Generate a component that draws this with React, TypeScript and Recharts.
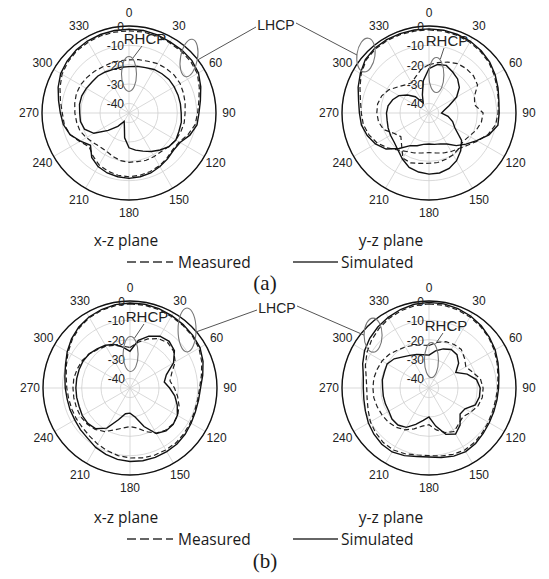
import React from 'react';
import { RadarChart, Radar, PolarGrid, PolarAngleAxis, PolarRadiusAxis } from 'recharts';

// sample angles (deg, clockwise from top) and axis labels
const ANGLES = [0, 10, 20, 30, 40, 50, 60, 70, 80, 90, 100, 110, 120, 130, 140, 150, 160, 170,
  180, 190, 200, 210, 220, 230, 240, 250, 260, 270, 280, 290, 300, 310, 320, 330, 340, 350];
const ANGLE_LABELS = [0, 30, 60, 90, 120, 150, 180, 210, 240, 270, 300, 330];
const RADIUS_TICKS = [-40, -30, -20, -10, 0];
const DB_MIN = -45;
const DB_MAX = 0;

// (a) x-z plane
const A_XZ_LHCP_SIM = [-1.7, -1.7, -2, -2.5, -2.5, -2.6, -3.5, -5.5, -7.5, -8.8, -9.3, -11.5, -14.5, -15, -14, -13, -12, -11.5,
  -11.2, -11.5, -12, -13, -15, -19, -16, -12.5, -10.5, -9.5, -8, -6, -4.2, -3.2, -2.5, -2, -1.8, -1.7];
const A_XZ_LHCP_MEAS = [-2.5, -2.5, -2.6, -3, -3.2, -3.4, -4.2, -6.3, -8.3, -9.5, -10.3, -12.5, -15, -15.5, -14.5, -13.5, -12.8, -12.3,
  -12, -12.3, -13, -14, -16, -18, -15.5, -12.5, -11, -10.5, -9, -7, -5, -3.8, -3, -2.7, -2.5, -2.5];
const A_XZ_RHCP_SIM = [-21, -20.5, -20, -19, -18.5, -18, -18, -18, -18, -18, -17.5, -17.5, -17, -18, -20, -22, -24, -25.5,
  -27, -32, -38, -40, -36, -31, -24, -20.5, -19.5, -19.5, -19, -19, -19.5, -20, -20, -20.5, -21, -21];
const A_XZ_RHCP_MEAS = [-17.5, -17, -16.5, -15.5, -15, -14.5, -14.5, -15, -15.5, -16, -16, -16.5, -17, -18, -19, -19, -19, -19.5,
  -19.5, -20, -21, -22, -22, -21, -19.5, -18, -17.5, -17, -16.5, -16, -16, -16.5, -17, -17.5, -17.5, -17.5];

// (a) y-z plane
const A_YZ_LHCP_SIM = [-1.5, -1.5, -1.8, -2.2, -3, -4, -5.5, -7, -8.3, -8.7, -8.8, -12, -16.5, -20, -23, -26.5, -28, -28.5,
  -29, -28.5, -27, -25.5, -21, -16, -13, -11, -9.5, -9, -8, -6, -4, -2, -1.3, -1.2, -1.3, -1.4];
const A_YZ_LHCP_MEAS = [-2, -2, -2.3, -2.8, -3.5, -4.5, -6, -7.5, -8.5, -9.3, -10, -12.5, -16, -19, -21, -22, -23, -24,
  -24.5, -24, -23, -22, -20, -17, -14, -12, -10.5, -10, -9, -7, -4.5, -2.5, -1.8, -1.7, -1.8, -2];
const A_YZ_RHCP_SIM = [-22, -19.5, -18.8, -20.5, -22, -24.5, -28.5, -34, -37, -38.5, -35, -32, -29.5, -23, -19.5, -16.5, -14.5, -13.5,
  -13.4, -14, -15, -17.5, -20, -21.5, -22, -22.5, -23, -23, -23.5, -25, -27, -30.5, -34, -39, -35, -28];
const A_YZ_RHCP_MEAS = [-20, -18.5, -17, -15.5, -15, -15, -16, -20, -21, -17, -17.5, -19, -21, -22, -21, -20, -19.5, -19,
  -19, -18.5, -17.5, -18, -23, -26, -24, -20, -18.5, -18, -18, -19, -21, -24, -26, -27, -25, -22];

// (b) x-z plane
const B_XZ_LHCP_SIM = [-1, -1, -1.3, -1.8, -2.2, -2.6, -3.2, -4.8, -6.8, -8.5, -9, -9, -8.5, -7.8, -7.2, -7, -6.8, -6.8,
  -7, -7.5, -8.5, -9.5, -11, -11.5, -12, -12, -12, -11.5, -10.8, -9.5, -7.5, -5.5, -3.8, -2.6, -1.8, -1.2];
const B_XZ_LHCP_MEAS = [-1.5, -1.5, -1.8, -2.3, -2.6, -3, -3.8, -5.5, -7.5, -9, -9.5, -9.5, -9, -8.5, -8, -8, -8, -8.3,
  -8.8, -9.5, -10.5, -11.5, -12.5, -13, -13, -13, -12.8, -12.3, -11.5, -10, -8, -6, -4.3, -3, -2.2, -1.7];
const B_XZ_RHCP_SIM = [-26, -20, -16.5, -14, -13.5, -15, -19, -25, -27, -24.5, -21.5, -19, -16.7, -15.8, -16, -17.8, -23.8, -29.8,
  -32, -31.5, -27.5, -21, -17.5, -16.5, -16.5, -17, -17, -17, -17, -17, -17, -17.5, -18.5, -19.5, -21, -23.5];
const B_XZ_RHCP_MEAS = [-24, -21, -18, -15.5, -14.5, -15.5, -18, -22, -24, -22, -20, -18, -16.5, -16, -16.5, -18, -21, -24,
  -25, -24, -22, -19, -17, -16, -15.5, -15.5, -15.5, -15.5, -15.5, -16, -16.5, -17.5, -19, -20, -21.5, -23];

// (b) y-z plane
const B_YZ_LHCP_SIM = [-0.7, -0.8, -1.3, -2, -3, -4.2, -5.5, -7, -8.3, -9, -9.3, -9.3, -9, -8.4, -7.5, -7, -7.5, -8.5,
  -9.3, -9, -7.8, -6.8, -7, -7.8, -8.8, -10, -10.8, -11, -10.5, -8.5, -6.5, -5, -3.8, -2.8, -1.8, -1];
const B_YZ_LHCP_MEAS = [-1.5, -1.5, -2, -2.6, -3.5, -4.6, -6, -7.5, -8.8, -9.5, -10, -10, -9.6, -9, -8.3, -8, -8.5, -9.3,
  -10, -9.8, -8.8, -8, -8.2, -9, -10, -11.5, -12.5, -12.8, -12, -10, -8, -6.3, -4.8, -3.5, -2.5, -1.8];
const B_YZ_RHCP_SIM = [-28, -25.5, -23.5, -22, -22.5, -25, -29, -24, -20, -18.5, -18.5, -19.5, -23.5, -24, -20, -17.5, -19.5, -25,
  -30, -28, -25, -21.5, -20, -20, -21, -21, -21, -21, -20.5, -20.5, -20, -21.5, -24, -25.5, -26.5, -27.5];
const B_YZ_RHCP_MEAS = [-23, -21, -19.5, -19, -19, -21, -23, -21, -18, -17, -17, -18, -20, -22, -21, -19, -20.5, -23,
  -26, -25, -22.5, -20, -18.5, -17.5, -17, -16.5, -16, -16, -16, -16.5, -17, -18, -19.5, -20.5, -21.5, -22.5];

const R = 87;
const SANS = '"Liberation Sans", Arial, sans-serif';
const BODY = '"Open Sans", "Noto Sans", sans-serif';
const INK = '#1a1a1a';

const panels = [
  {
    id: 'a-xz', left: 0, top: 0, width: 262, cx: 129, cy: 113,
    lhcpSim: A_XZ_LHCP_SIM, lhcpMeas: A_XZ_LHCP_MEAS, rhcpSim: A_XZ_RHCP_SIM, rhcpMeas: A_XZ_RHCP_MEAS,
    lhcpMark: { angle: 47.5, db: -2.9, rx: 8.5, ry: 19, rot: 10 },
    rhcpMark: { angle: 0, db: -24.8, rx: 7.5, ry: 17.5, rot: 0 },
    rhcpLabel: { dx: 16, dy: -75 },
  },
  {
    id: 'a-yz', left: 290, top: 0, width: 259, cx: 139, cy: 113,
    lhcpSim: A_YZ_LHCP_SIM, lhcpMeas: A_YZ_LHCP_MEAS, rhcpSim: A_YZ_RHCP_SIM, rhcpMeas: A_YZ_RHCP_MEAS,
    lhcpMark: { angle: 312.6, db: -0.7, rx: 9, ry: 17, rot: 8 },
    rhcpMark: { angle: 11, db: -25, rx: 7.5, ry: 17.5, rot: 0 },
    rhcpLabel: { dx: 18, dy: -73 },
  },
  {
    id: 'b-xz', left: 0, top: 275, width: 262, cx: 130, cy: 113,
    lhcpSim: B_XZ_LHCP_SIM, lhcpMeas: B_XZ_LHCP_MEAS, rhcpSim: B_XZ_RHCP_SIM, rhcpMeas: B_XZ_RHCP_MEAS,
    lhcpMark: { angle: 44.5, db: -2.9, rx: 9, ry: 22, rot: 0 },
    rhcpMark: { angle: 1, db: -27.4, rx: 7.5, ry: 17.5, rot: 0 },
    rhcpLabel: { dx: 17, dy: -72 },
  },
  {
    id: 'b-yz', left: 290, top: 275, width: 259, cx: 139, cy: 113,
    lhcpSim: B_YZ_LHCP_SIM, lhcpMeas: B_YZ_LHCP_MEAS, rhcpSim: B_YZ_RHCP_SIM, rhcpMeas: B_YZ_RHCP_MEAS,
    lhcpMark: { angle: 313.4, db: -5.2, rx: 9, ry: 17, rot: 0 },
    rhcpMark: { angle: 5, db: -30.5, rx: 7, ry: 17.5, rot: 0 },
    rhcpLabel: { dx: 17, dy: -63 },
  },
];

const dbToR = (db: number) => ((db - DB_MIN) / (DB_MAX - DB_MIN)) * R;

function polarPoint(cx: number, cy: number, angle: number, db: number) {
  const r = dbToR(db);
  const a = (angle * Math.PI) / 180;
  return { x: cx + r * Math.sin(a), y: cy - r * Math.cos(a) };
}

function PolarPanel({ p }: { p: any }) {
  const data = ANGLES.map((a, i) => ({
    angle: String(a),
    lhcpMeas: p.lhcpMeas[i],
    lhcpSim: p.lhcpSim[i],
    rhcpMeas: p.rhcpMeas[i],
    rhcpSim: p.rhcpSim[i],
  }));
  const rings = RADIUS_TICKS.map(dbToR);

  const angleTick = (props: any) => {
    const v = Number(props.payload.value);
    if (v % 30 !== 0) return <g />;
    const rad = (-props.payload.coordinate * Math.PI) / 180;
    const x = p.cx + (R + 13) * Math.cos(rad);
    const y = p.cy + (R + 13) * Math.sin(rad);
    return (
      <text x={x} y={y} textAnchor="middle" dominantBaseline="central" fontSize={12} fontFamily={SANS} fill="#222">
        {v}
      </text>
    );
  };

  const radiusTick = (props: any) => {
    const v = Number(props.payload.value);
    if (!RADIUS_TICKS.includes(v)) return <g />;
    return (
      <text x={props.x - 5} y={props.y + 1} textAnchor="end" dominantBaseline="central" fontSize={12} fontFamily={SANS} fill="#222">
        {v}
      </text>
    );
  };

  return (
    <div style={{ position: 'absolute', left: p.left, top: p.top }}>
      <RadarChart
        width={p.width}
        height={226}
        data={data}
        cx={p.cx}
        cy={p.cy}
        outerRadius={R}
        margin={{ top: 0, right: 0, bottom: 0, left: 0 }}
      >
        <PolarGrid gridType="circle" stroke="#cfcfcf" strokeWidth={0.8} polarAngles={ANGLE_LABELS} polarRadius={rings} />
        <Radar dataKey="lhcpMeas" stroke="#222" strokeWidth={1.2} strokeDasharray="5 3" fill="none" fillOpacity={0} dot={false} isAnimationActive={false} />
        <Radar dataKey="rhcpMeas" stroke="#222" strokeWidth={1.2} strokeDasharray="5 3" fill="none" fillOpacity={0} dot={false} isAnimationActive={false} />
        <Radar dataKey="lhcpSim" stroke="#111" strokeWidth={1.4} fill="none" fillOpacity={0} dot={false} isAnimationActive={false} />
        <Radar dataKey="rhcpSim" stroke="#111" strokeWidth={1.4} fill="none" fillOpacity={0} dot={false} isAnimationActive={false} />
        <PolarAngleAxis
          dataKey="angle"
          tick={angleTick}
          tickLine={false}
          axisLineType="circle"
          axisLine={{ stroke: '#111', strokeWidth: 1.4 }}
        />
        <PolarRadiusAxis
          angle={90}
          type="number"
          domain={[DB_MIN, DB_MAX]}
          ticks={RADIUS_TICKS}
          tickCount={10}
          axisLine={false}
          tick={radiusTick}
        />
      </RadarChart>
    </div>
  );
}

function Annotations() {
  const marks = panels.map((p) => {
    const gx = p.left + p.cx;
    const gy = p.top + p.cy;
    const l = polarPoint(gx, gy, p.lhcpMark.angle, p.lhcpMark.db);
    const r = polarPoint(gx, gy, p.rhcpMark.angle, p.rhcpMark.db);
    return { p, l, r, gx, gy };
  });
  const rows = [
    { label: { x: 276, y: 25 }, left: marks[0], right: marks[1] },
    { label: { x: 277, y: 308 }, left: marks[2], right: marks[3] },
  ];
  return (
    <svg width={549} height={579} style={{ position: 'absolute', left: 0, top: 0, pointerEvents: 'none' }}>
      {marks.map(({ p, l, r, gx, gy }) => {
        const lx = gx + p.rhcpLabel.dx;
        const ly = gy + p.rhcpLabel.dy;
        return (
          <g key={p.id}>
            <ellipse cx={l.x} cy={l.y} rx={p.lhcpMark.rx} ry={p.lhcpMark.ry}
              transform={`rotate(${p.lhcpMark.rot} ${l.x} ${l.y})`} fill="none" stroke="#777" strokeWidth={1.1} />
            <ellipse cx={r.x} cy={r.y} rx={p.rhcpMark.rx} ry={p.rhcpMark.ry} fill="none" stroke="#777" strokeWidth={1.1} />
            <line x1={lx - 3} y1={ly + 8} x2={r.x + 4} y2={r.y - p.rhcpMark.ry + 1.5} stroke="#555" strokeWidth={1} />
            <text x={lx} y={ly} textAnchor="middle" dominantBaseline="central" fontSize={15} fontFamily={SANS} fill="#222">RHCP</text>
          </g>
        );
      })}
      {rows.map((row, i) => (
        <g key={i}>
          <text x={row.label.x} y={row.label.y} textAnchor="middle" dominantBaseline="central" fontSize={14} fontFamily={SANS} fill="#222">LHCP</text>
          <line x1={row.label.x - 20} y1={row.label.y + 2} x2={row.left.l.x + row.left.p.lhcpMark.rx} y2={row.left.l.y + 2} stroke="#555" strokeWidth={1} />
          <line x1={row.label.x + 20} y1={row.label.y - 2} x2={row.right.l.x - row.right.p.lhcpMark.rx} y2={row.right.l.y} stroke="#555" strokeWidth={1} />
        </g>
      ))}
    </svg>
  );
}

function Captions() {
  const blocks = [
    { planeY: 240, legendY: 262, tagY: 283, tag: '(a)' },
    { planeY: 517, legendY: 539, tagY: 561, tag: '(b)' },
  ];
  return (
    <svg width={549} height={579} style={{ position: 'absolute', left: 0, top: 0 }}>
      {blocks.map((b) => (
        <g key={b.tag} fill={INK}>
          <text x={126} y={b.planeY} textAnchor="middle" dominantBaseline="central" fontSize={15.5} fontFamily={BODY}>x-z plane</text>
          <text x={391} y={b.planeY} textAnchor="middle" dominantBaseline="central" fontSize={15.5} fontFamily={BODY}>y-z plane</text>
          <line x1={127} y1={b.legendY} x2={173} y2={b.legendY} stroke="#333" strokeWidth={1.5} strokeDasharray="9 4" />
          <text x={178} y={b.legendY} dominantBaseline="central" fontSize={15.5} fontFamily={BODY}>Measured</text>
          <line x1={293} y1={b.legendY} x2={338} y2={b.legendY} stroke="#333" strokeWidth={1.5} />
          <text x={341} y={b.legendY} dominantBaseline="central" fontSize={15.5} fontFamily={BODY}>Simulated</text>
          <text x={265} y={b.tagY} textAnchor="middle" dominantBaseline="central" fontSize={21} fontFamily='"Liberation Serif", "Times New Roman", serif'>{b.tag}</text>
        </g>
      ))}
    </svg>
  );
}

export default function App() {
  return (
    <div style={{ position: 'absolute', left: 0, top: 0, width: 549, height: 579, background: '#fff', overflow: 'hidden' }}>
      <Captions />
      {panels.map((p) => (
        <PolarPanel key={p.id} p={p} />
      ))}
      <Annotations />
    </div>
  );
}
